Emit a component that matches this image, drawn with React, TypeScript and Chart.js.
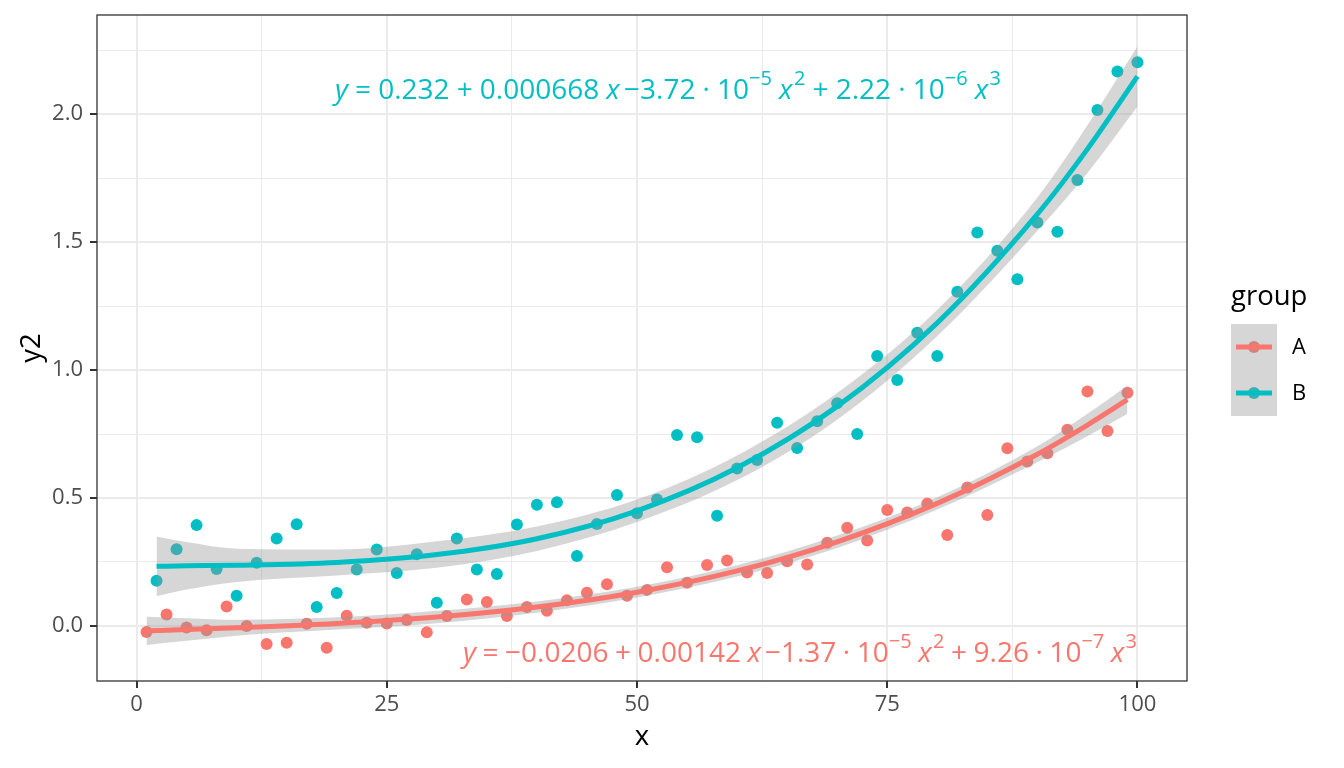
import React, { useEffect, useRef } from "react";
import { Chart, registerables } from "chart.js";

Chart.register(...registerables);

// ---------------- data ----------------
const groups = ["A", "B"];
const colorA = "#F8766D";
const colorB = "#00BFC4";

const xA = [1, 3, 5, 7, 9, 11, 13, 15, 17, 19, 21, 23, 25, 27, 29, 31, 33, 35, 37, 39, 41, 43, 45, 47, 49,
  51, 53, 55, 57, 59, 61, 63, 65, 67, 69, 71, 73, 75, 77, 79, 81, 83, 85, 87, 89, 91, 93, 95, 97, 99];
const yA = [-0.024, 0.045, -0.006, -0.017, 0.076, 0.0, -0.07, -0.066, 0.009, -0.085, 0.04, 0.013, 0.01, 0.023, -0.025,
  0.039, 0.103, 0.094, 0.039, 0.074, 0.059, 0.1, 0.13, 0.163, 0.118, 0.141, 0.229, 0.169, 0.238, 0.256,
  0.209, 0.207, 0.253, 0.24, 0.325, 0.384, 0.334, 0.453, 0.443, 0.478, 0.355, 0.541, 0.434, 0.694, 0.643,
  0.675, 0.767, 0.916, 0.762, 0.911];

const xB = [2, 4, 6, 8, 10, 12, 14, 16, 18, 20, 22, 24, 26, 28, 30, 32, 34, 36, 38, 40, 42, 44, 46, 48, 50,
  52, 54, 56, 58, 60, 62, 64, 66, 68, 70, 72, 74, 76, 78, 80, 82, 84, 86, 88, 90, 92, 94, 96, 98, 100];
const yB = [0.177, 0.3, 0.394, 0.223, 0.118, 0.247, 0.342, 0.397, 0.074, 0.129, 0.221, 0.299, 0.207, 0.28, 0.091,
  0.342, 0.221, 0.203, 0.396, 0.474, 0.483, 0.273, 0.398, 0.512, 0.44, 0.494, 0.746, 0.737, 0.431, 0.615,
  0.648, 0.794, 0.695, 0.8, 0.87, 0.75, 1.055, 0.961, 1.146, 1.055, 1.306, 1.537, 1.466, 1.355, 1.576,
  1.54, 1.742, 2.016, 2.166, 2.202];

// fitted curves and half-width of the grey bands
const fitXA = [1, 5, 10, 20, 30, 40, 50, 60, 70, 80, 90, 95, 99];
const fitA = [-0.019, -0.014, -0.007, 0.01, 0.035, 0.074, 0.132, 0.215, 0.329, 0.479, 0.671, 0.785, 0.884];
const bandA = [0.055, 0.044, 0.031, 0.024, 0.024, 0.022, 0.021, 0.022, 0.024, 0.024, 0.031, 0.044, 0.055];

const fitXB = [2, 5, 10, 20, 30, 40, 50, 60, 70, 80, 90, 95, 100];
const fitB = [0.233, 0.235, 0.237, 0.248, 0.279, 0.341, 0.45, 0.618, 0.858, 1.184, 1.609, 1.863, 2.147];
const bandB = [0.117, 0.093, 0.065, 0.051, 0.052, 0.048, 0.044, 0.048, 0.052, 0.051, 0.065, 0.093, 0.117];

const xMajor = [0, 25, 50, 75, 100];
const xMinor = [12.5, 37.5, 62.5, 87.5];
const yMajor = [0, 0.5, 1, 1.5, 2];
const yMinor = [0.25, 0.75, 1.25, 1.75, 2.25];

const eqA = ["y", "=", "−0.0206", "+", "0.00142", "x", "−1.37", "·", "10", "−5", "x", "2", "+", "9.26", "·", "10", "−7", "x", "3"];
const eqB = ["y", "=", "0.232", "+", "0.000668", "x", "−3.72", "·", "10", "−5", "x", "2", "+", "2.22", "·", "10", "−6", "x", "3"];

// ---------------- helpers ----------------
const FONT = "'Open Sans', 'Noto Sans', 'DejaVu Sans', sans-serif";
const pts = (xs: number[], ys: number[]) => xs.map((x, i) => ({ x, y: ys[i] }));
const band = (xs: number[], ys: number[], h: number[], s: number) => xs.map((x, i) => ({ x, y: ys[i] + s * h[i] }));

// kinds: 'it' italic, 'n' normal, 's' superscript; gap weight before each piece
const eqKinds = ["it", "n", "n", "n", "n", "it", "n", "n", "n", "s", "it", "s", "n", "n", "n", "n", "s", "it", "s"];
const eqGaps = [0, 1, 1, 1, 1, 1, 0.6, 1, 1, 0, 1, 0.2, 1, 1, 1, 1, 0, 1, 0.2];

function drawEquation(ctx: CanvasRenderingContext2D, parts: string[], color: string, x0: number, x1: number, base: number) {
  const fMain = 28;
  const fSup = 20;
  const fonts = eqKinds.map((k) =>
    k === "it" ? `italic ${fMain}px ${FONT}` : k === "s" ? `${fSup}px ${FONT}` : `${fMain}px ${FONT}`
  );
  const widths = parts.map((p, i) => {
    ctx.font = fonts[i];
    return ctx.measureText(p).width;
  });
  const W = widths.reduce((a, b) => a + b, 0);
  const G = eqGaps.reduce((a, b) => a + b, 0);
  const unit = Math.max(2, (x1 - x0 - W) / G);
  let x = x0;
  ctx.fillStyle = color;
  ctx.textAlign = "left";
  ctx.textBaseline = "alphabetic";
  parts.forEach((p, i) => {
    x += eqGaps[i] * unit;
    ctx.font = fonts[i];
    ctx.fillText(p, x, eqKinds[i] === "s" ? base - 14 : base);
    x += widths[i];
  });
}

const overlay = {
  id: "ggOverlay",
  afterDraw(chart: any) {
    const { ctx, chartArea } = chart;
    const { left, right, top, bottom } = chartArea;
    ctx.save();
    // panel border
    ctx.strokeStyle = "#333333";
    ctx.lineWidth = 1.3;
    ctx.strokeRect(left, top, right - left, bottom - top);

    // equations
    drawEquation(ctx, eqB, colorB, 335, 1001, 99);
    drawEquation(ctx, eqA, colorA, 463, 1137, 662);

    // axis titles
    ctx.fillStyle = "#000000";
    ctx.font = `27.5px ${FONT}`;
    ctx.textAlign = "center";
    ctx.textBaseline = "alphabetic";
    ctx.fillText("x", (left + right) / 2, 745);
    ctx.save();
    ctx.translate(40, (top + bottom) / 2);
    ctx.rotate(-Math.PI / 2);
    ctx.fillText("y2", 0, 0);
    ctx.restore();

    // legend
    ctx.textAlign = "left";
    ctx.fillText("group", 1231, 305);
    const kx = 1231, ky = 324, kw = 46, kh = 46;
    groups.forEach((g, i) => {
      const c = i === 0 ? colorA : colorB;
      const y0 = ky + i * kh;
      ctx.fillStyle = "#ffffff";
      ctx.fillRect(kx, y0, kw, kh);
      ctx.fillStyle = c;
      ctx.beginPath();
      ctx.arc(kx + kw / 2, y0 + kh / 2, 6, 0, Math.PI * 2);
      ctx.fill();
      ctx.fillStyle = "rgba(153,153,153,0.4)";
      ctx.fillRect(kx, y0, kw, kh);
      ctx.strokeStyle = c;
      ctx.lineWidth = 5;
      ctx.beginPath();
      ctx.moveTo(kx + 5, y0 + kh / 2);
      ctx.lineTo(kx + kw - 5, y0 + kh / 2);
      ctx.stroke();
      ctx.fillStyle = "#000000";
      ctx.font = `22px ${FONT}`;
      ctx.textBaseline = "middle";
      ctx.fillText(g, 1292, y0 + kh / 2 + 1);
      ctx.textBaseline = "alphabetic";
    });
    ctx.restore();
  },
};

const isIn = (arr: number[], v: number) => arr.some((a) => Math.abs(a - v) < 1e-9);

export default function App() {
  const ref = useRef<HTMLCanvasElement | null>(null);

  useEffect(() => {
    if (!ref.current) return;
    const ribbon = "rgba(153,153,153,0.4)";
    const chart = new Chart(ref.current, {
      type: "line",
      data: {
        datasets: [
          // 0,1 points
          { label: "A", data: pts(xA, yA), showLine: false, pointRadius: 6, pointHoverRadius: 6, pointBorderWidth: 0, backgroundColor: colorA, pointBackgroundColor: colorA, borderColor: colorA, order: 3 } as any,
          { label: "B", data: pts(xB, yB), showLine: false, pointRadius: 6, pointHoverRadius: 6, pointBorderWidth: 0, backgroundColor: colorB, pointBackgroundColor: colorB, borderColor: colorB, order: 3 } as any,
          // 2,3 ribbon A
          { label: "A lo", data: band(fitXA, fitA, bandA, -1), borderWidth: 0, pointRadius: 0, fill: false, cubicInterpolationMode: "monotone", order: 2 } as any,
          { label: "A hi", data: band(fitXA, fitA, bandA, 1), borderWidth: 0, pointRadius: 0, fill: 2, backgroundColor: ribbon, cubicInterpolationMode: "monotone", order: 2 } as any,
          // 4,5 ribbon B
          { label: "B lo", data: band(fitXB, fitB, bandB, -1), borderWidth: 0, pointRadius: 0, fill: false, cubicInterpolationMode: "monotone", order: 2 } as any,
          { label: "B hi", data: band(fitXB, fitB, bandB, 1), borderWidth: 0, pointRadius: 0, fill: 4, backgroundColor: ribbon, cubicInterpolationMode: "monotone", order: 2 } as any,
          // 6,7 lines
          { label: "A fit", data: pts(fitXA, fitA), borderColor: colorA, borderWidth: 5, pointRadius: 0, fill: false, cubicInterpolationMode: "monotone", order: 1 } as any,
          { label: "B fit", data: pts(fitXB, fitB), borderColor: colorB, borderWidth: 5, pointRadius: 0, fill: false, cubicInterpolationMode: "monotone", order: 1 } as any,
        ],
      },
      options: {
        animation: false,
        responsive: true,
        maintainAspectRatio: false,
        devicePixelRatio: 1,
        layout: { padding: { left: 0, top: 15, right: 157, bottom: 0 } },
        plugins: {
          legend: { display: false },
          tooltip: { enabled: false },
          title: { display: false },
        },
        events: [],
        scales: {
          x: {
            type: "linear",
            min: -3.95,
            max: 104.95,
            afterBuildTicks: (s: any) => {
              s.ticks = [...xMajor, ...xMinor].sort((a, b) => a - b).map((v) => ({ value: v }));
            },
            afterFit: (s: any) => {
              s.height = 87;
              s.paddingLeft = 0;
              s.paddingRight = 0;
              s.paddingTop = 0;
              s.paddingBottom = 0;
            },
            ticks: {
              autoSkip: false,
              maxRotation: 0,
              padding: 4,
              color: "#4d4d4d",
              font: { family: FONT, size: 22 },
              callback: (v: any) => (isIn(xMajor, Number(v)) ? String(v) : ""),
            },
            grid: {
              color: "#ebebeb",
              lineWidth: (c: any) => (c.tick && isIn(xMajor, c.tick.value) ? 2 : 1),
              tickColor: (c: any) => (c.tick && isIn(xMajor, c.tick.value) ? "#333333" : "rgba(0,0,0,0)"),
              tickWidth: 2,
              tickLength: 7,
            },
            border: { display: false },
          },
          y: {
            type: "linear",
            min: -0.215,
            max: 2.387,
            afterBuildTicks: (s: any) => {
              s.ticks = [...yMajor, ...yMinor].sort((a, b) => a - b).map((v) => ({ value: v }));
            },
            afterFit: (s: any) => {
              s.width = 97;
              s.paddingLeft = 0;
              s.paddingRight = 0;
              s.paddingTop = 0;
              s.paddingBottom = 0;
            },
            ticks: {
              autoSkip: false,
              padding: 7,
              color: "#4d4d4d",
              font: { family: FONT, size: 22 },
              callback: (v: any) => (isIn(yMajor, Number(v)) ? Number(v).toFixed(1) : ""),
            },
            grid: {
              color: "#ebebeb",
              lineWidth: (c: any) => (c.tick && isIn(yMajor, c.tick.value) ? 2 : 1),
              tickColor: (c: any) => (c.tick && isIn(yMajor, c.tick.value) ? "#333333" : "rgba(0,0,0,0)"),
              tickWidth: 2,
              tickLength: 7,
            },
            border: { display: false },
          },
        },
      } as any,
      plugins: [overlay],
    });
    return () => chart.destroy();
  }, []);

  return (
    <div style={{ position: "fixed", left: 0, top: 0, width: 1344, height: 768, background: "#ffffff" }}>
      <canvas ref={ref} />
    </div>
  );
}
